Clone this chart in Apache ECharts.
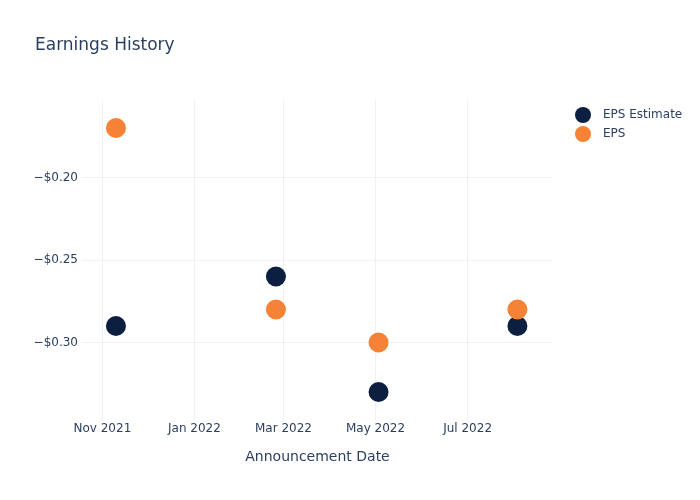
<!DOCTYPE html>
<html>
<head>
<meta charset="utf-8">
<script src="https://cdn.jsdelivr.net/npm/echarts@6/dist/echarts.min.js"></script>
<style>html,body{margin:0;padding:0;background:#fff}#c{width:700px;height:500px}</style>
</head>
<body>
<div id="c"></div>
<script>
const dates = ['2021-11-10', '2022-02-24', '2022-05-03', '2022-08-03'];
const epsEstimate = [-0.29, -0.26, -0.33, -0.29];
const eps = [-0.17, -0.28, -0.30, -0.28];
const xTicks = ['2021-11-01', '2022-01-01', '2022-03-01', '2022-05-01', '2022-07-01'];
const yTicks = [-0.30, -0.25, -0.20];
const xRange = ['2021-10-18T12:00', '2022-08-26T14:00'];
const yRange = [-0.347, -0.153];
const monthNames = ['Jan','Feb','Mar','Apr','May','Jun','Jul','Aug','Sep','Oct','Nov','Dec'];

function ts(s) {
  const [d, t] = s.split('T');
  const [y, m, dd] = d.split('-').map(Number);
  let h = 0, mi = 0;
  if (t) { [h, mi] = t.split(':').map(Number); }
  return Date.UTC(y, m - 1, dd, h, mi);
}
const font = 'DejaVu Sans, Verdana, sans-serif';
const textColor = '#2a3f5f';
const gridColor = '#eef1f6';

const chart = echarts.init(document.getElementById('c'), null, {renderer: 'canvas'});
chart.setOption({
  animation: false,
  backgroundColor: '#fff',
  textStyle: {fontFamily: font},
  title: {
    text: 'Earnings History',
    left: 30, top: 32,
    textStyle: {fontFamily: font, fontSize: 17, fontWeight: 'normal', color: textColor}
  },
  legend: {
    orient: 'vertical',
    left: 570, top: 102,
    itemWidth: 16, itemHeight: 16, itemGap: 3,
    icon: 'circle',
    textStyle: {fontFamily: font, fontSize: 12, color: textColor, padding: [0, 0, 0, 7]},
    data: ['EPS Estimate', 'EPS']
  },
  grid: {left: 82, right: 147, top: 100, bottom: 80, containLabel: false},
  xAxis: {
    type: 'value',
    min: ts(xRange[0]), max: ts(xRange[1]),
    name: 'Announcement Date',
    nameLocation: 'middle',
    nameGap: 30,
    nameTextStyle: {fontFamily: font, fontSize: 14, color: textColor},
    axisLine: {show: false},
    axisTick: {show: false, customValues: xTicks.map(ts)},
    axisLabel: {
      customValues: xTicks.map(ts),
      margin: 3,
      fontFamily: font, fontSize: 12, color: textColor,
      formatter: v => { const d = new Date(v); return monthNames[d.getUTCMonth()] + ' ' + d.getUTCFullYear(); }
    },
    splitLine: {show: true, lineStyle: {color: gridColor, width: 1}}
  },
  yAxis: {
    type: 'value',
    min: yRange[0], max: yRange[1],
    axisLine: {show: false},
    axisTick: {show: false, customValues: yTicks},
    axisLabel: {
      customValues: yTicks,
      margin: 4,
      fontFamily: font, fontSize: 12, color: textColor,
      formatter: v => (v < 0 ? '\u2212' : '') + '$' + Math.abs(v).toFixed(2)
    },
    splitLine: {show: true, lineStyle: {color: gridColor, width: 1}}
  },
  series: [
    {
      name: 'EPS Estimate', type: 'scatter', symbolSize: 20,
      itemStyle: {color: '#0c1f41', opacity: 1},
      data: dates.map((d, i) => [ts(d), epsEstimate[i]])
    },
    {
      name: 'EPS', type: 'scatter', symbolSize: 20,
      itemStyle: {color: '#f58235', opacity: 1},
      data: dates.map((d, i) => [ts(d), eps[i]])
    }
  ]
});
</script>
</body>
</html>
